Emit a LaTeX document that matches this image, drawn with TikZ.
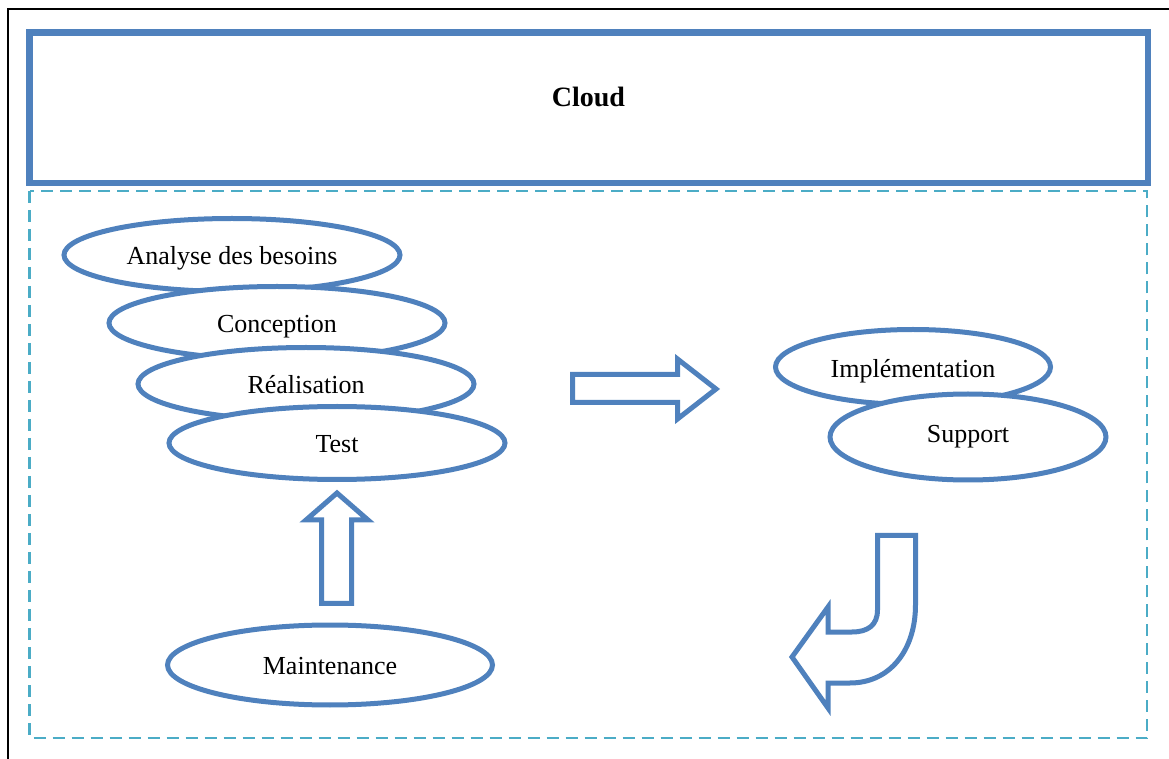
\documentclass[tikz,border=0pt]{standalone}
\usepackage{fontspec}
\setmainfont{Liberation Serif}
\usetikzlibrary{arrows,shapes}
\definecolor{wordblue}{HTML}{4F81BD}
\definecolor{wordcyan}{HTML}{4BACC6}
\tikzstyle{phase}=[ellipse,draw=wordblue,line width=2.5pt,fill=white,inner sep=0pt]
\tikzstyle{phasetext}=[anchor=base,inner sep=0pt,font=\fontsize{13}{15}\selectfont]
\tikzstyle{blockarrow}=[draw=wordblue,line width=2.5pt,fill=white,line join=miter]

\begin{document}
\begin{tikzpicture}[x=0.5pt,y=-0.5pt]

    \useasboundingbox (0,0) rectangle (1169,759);
    \draw[line width=1pt] (8,759) -- (8,9) -- (1169,9);

    % cloud box
    \node[draw=wordblue, line width=3.25pt, inner sep=0pt, outer sep=0pt,
          minimum width=559.25pt, minimum height=75.25pt] (cloud) at (588.75,107.75) {};
    \node[anchor=base, font=\fontsize{14}{16}\selectfont\bfseries] (cloud-t) at (588.5,107) {Cloud};

    \draw[wordcyan, line width=1.25pt, dash pattern=on 6pt off 3.5pt] (29.5,191) rectangle (1147,738);

    % phases
    \foreach \x/\y/\name/\txt in {232/255/ana/Analyse des besoins, 277/323/con/Conception, 306/384/rea/Réalisation, 337/443/tst/Test}
    {
        \node[phase, minimum width=168pt, minimum height=36.5pt] (\name) at (\x,\y) {};
        \node[phasetext] (\name-t) at ([yshift=-5pt]\name.center) {\txt};
    }

    \node[phase, minimum width=162.5pt, minimum height=40pt] (mnt) at (330,665) {};
    \node[phasetext] (mnt-t) at ([yshift=-5pt]mnt.center) {Maintenance};

    \node[phase, minimum width=137.5pt, minimum height=37.5pt] (imp) at (913,367) {};
    \node[phasetext] (imp-t) at ([yshift=-5.5pt]imp.center) {Implémentation};
    \node[phase, minimum width=138pt, minimum height=43pt] (sup) at (968,437) {};
    \node[phasetext] (sup-t) at ([yshift=-3pt]sup.center) {Support};

    % block arrows
    \draw[blockarrow] (572.5,374.5) -- (677.5,374.5) -- (677.5,359) -- (716,389)
        -- (677.5,419) -- (677.5,402.5) -- (572.5,402.5) -- cycle;

    \draw[blockarrow] (321.5,603.5) -- (321.5,520) -- (306,520) -- (337,493)
        -- (368,520) -- (351.5,520) -- (351.5,603.5) -- cycle;

    \draw[blockarrow] (877.5,535.5) -- (915.5,535.5) -- (915.5,605)
        .. controls (915.5,650) and (890,683) .. (850,683) -- (828,683) -- (828,708)
        -- (792,657) -- (828,607) -- (828,632) -- (852,632)
        .. controls (868,632) and (877.5,625) .. (877.5,610) -- cycle;

\end{tikzpicture}
\end{document}
